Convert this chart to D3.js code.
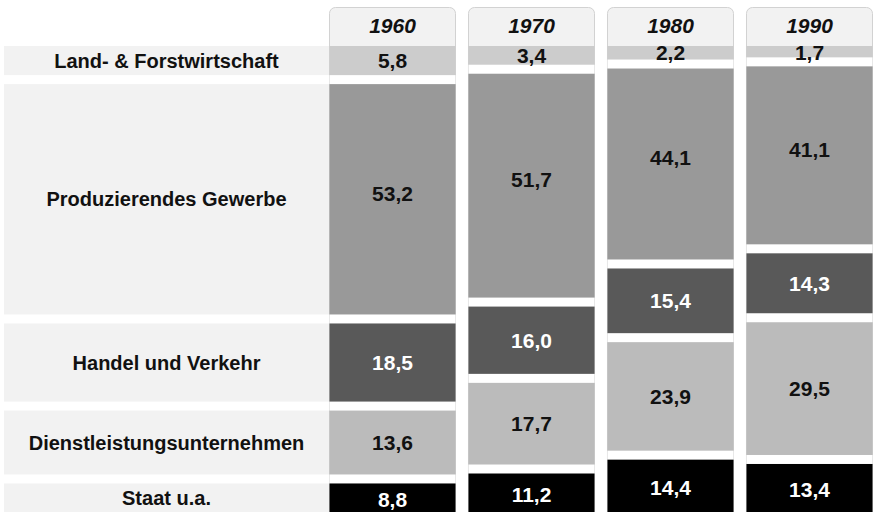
<!DOCTYPE html>
<html>
<head>
<meta charset="utf-8">
<script src="https://cdnjs.cloudflare.com/ajax/libs/d3/7.8.5/d3.min.js"></script>
<style>
  html, body { margin: 0; padding: 0; background: #fff; }
  svg { display: block; font-family: "Liberation Sans", Arial, sans-serif; }
</style>
</head>
<body>
<svg width="873" height="512"></svg>
<script>
// data (percent of gross value added)
var years = ["1960", "1970", "1980", "1990"];
var sectors = ["Land- & Forstwirtschaft", "Produzierendes Gewerbe", "Handel und Verkehr",
               "Dienstleistungsunternehmen", "Staat u.a."];
var land   = [5.8, 3.4, 2.2, 1.7];
var prod   = [53.2, 51.7, 44.1, 41.1];
var handel = [18.5, 16.0, 15.4, 14.3];
var dienst = [13.6, 17.7, 23.9, 29.5];
var staat  = [8.8, 11.2, 14.4, 13.4];

var series = [land, prod, handel, dienst, staat];

// styling per sector
var fills     = ["#cccccc", "#999999", "#595959", "#bbbbbb", "#000000"];
var textFills = ["#111", "#111", "#fff", "#111", "#fff"];
var pads      = [4, 0, -2, 5, 0];   // extra px per segment
var textShift = [0, -6, 0, 0, 2];

var svg = d3.select("svg"),
    width = +svg.attr("width"),
    height = +svg.attr("height"),
    top0 = 46, gap = 9;

var fmt = d3.formatLocale({decimal: ",", thousands: ".", grouping: [3], currency: ["", ""]}).format(".1f");

// column scale
var x = d3.scaleBand()
    .domain(years)
    .range([329, 873])
    .paddingInner(0.0863)
    .paddingOuter(0);

// value -> pixel height
var y = d3.scaleLinear()
    .domain([0, 100])
    .range([0, 433]);

// build stacked segments for each year
var columns = years.map(function(yr, i) {
  var y0 = top0;
  var segs = series.map(function(s, r) {
    var h = y(s[i]) + pads[r];
    var seg = {year: yr, row: r, value: s[i], y0: y0, y1: y0 + h};
    y0 = y0 + h + gap;
    return seg;
  });
  return {year: yr, segs: segs};
});

// left label bands follow the first column
var bands = columns[0].segs.map(function(d) {
  return {row: d.row, y0: d.y0, y1: Math.min(d.y1, height)};
});

var labels = svg.append("g").attr("class", "labels");

labels.selectAll("rect")
  .data(bands)
  .enter().append("rect")
    .attr("x", 4)
    .attr("y", function(d) { return d.y0; })
    .attr("width", x(years[0]) - 4)
    .attr("height", function(d) { return d.y1 - d.y0; })
    .attr("fill", "#f2f2f2");

labels.selectAll("text")
  .data(bands)
  .enter().append("text")
    .attr("x", (4 + x(years[0])) / 2)
    .attr("y", function(d) { return (d.y0 + d.y1) / 2; })
    .attr("dy", "0.35em")
    .attr("text-anchor", "middle")
    .attr("font-size", 20)
    .attr("font-weight", "bold")
    .attr("fill", "#111")
    .text(function(d) { return sectors[d.row]; });

// year panels
var col = svg.selectAll(".col")
  .data(columns)
  .enter().append("g")
    .attr("class", "col")
    .attr("transform", function(d) { return "translate(" + x(d.year) + ",0)"; });

col.append("rect")
    .attr("x", 0.5)
    .attr("y", 7.5)
    .attr("width", x.bandwidth() - 1)
    .attr("height", 600)
    .attr("rx", 6)
    .attr("fill", "#f2f2f2")
    .attr("stroke", "#d2d2d2");

col.append("rect")
    .attr("x", 0)
    .attr("y", top0)
    .attr("width", x.bandwidth())
    .attr("height", height - top0)
    .attr("fill", "#fff");

col.append("text")
    .attr("x", x.bandwidth() / 2)
    .attr("y", 26)
    .attr("dy", "0.35em")
    .attr("text-anchor", "middle")
    .attr("font-size", 21)
    .attr("font-weight", "bold")
    .attr("font-style", "italic")
    .attr("fill", "#111")
    .text(function(d) { return d.year; });

col.selectAll(".seg")
  .data(function(d) { return d.segs; })
  .enter().append("rect")
    .attr("class", "seg")
    .attr("x", 0)
    .attr("y", function(d) { return d.y0; })
    .attr("width", x.bandwidth())
    .attr("height", function(d) { return d.y1 - d.y0; })
    .attr("fill", function(d) { return fills[d.row]; });

// faint panel border over the bars
col.selectAll(".edge")
  .data([0.5, x.bandwidth() - 0.5])
  .enter().append("line")
    .attr("class", "edge")
    .attr("x1", function(d) { return d; })
    .attr("x2", function(d) { return d; })
    .attr("y1", top0)
    .attr("y2", height)
    .attr("stroke", "#d2d2d2")
    .attr("stroke-opacity", 0.5);

col.selectAll(".val")
  .data(function(d) { return d.segs; })
  .enter().append("text")
    .attr("class", "val")
    .attr("x", x.bandwidth() / 2)
    .attr("y", function(d) {
      var c = (d.y0 + Math.min(d.y1, height)) / 2 + textShift[d.row];
      return Math.max(c, d.y0 + 7);
    })
    .attr("dy", "0.35em")
    .attr("text-anchor", "middle")
    .attr("font-size", 21)
    .attr("font-weight", "bold")
    .attr("fill", function(d) { return textFills[d.row]; })
    .text(function(d) { return fmt(d.value); });
</script>
</body>
</html>
